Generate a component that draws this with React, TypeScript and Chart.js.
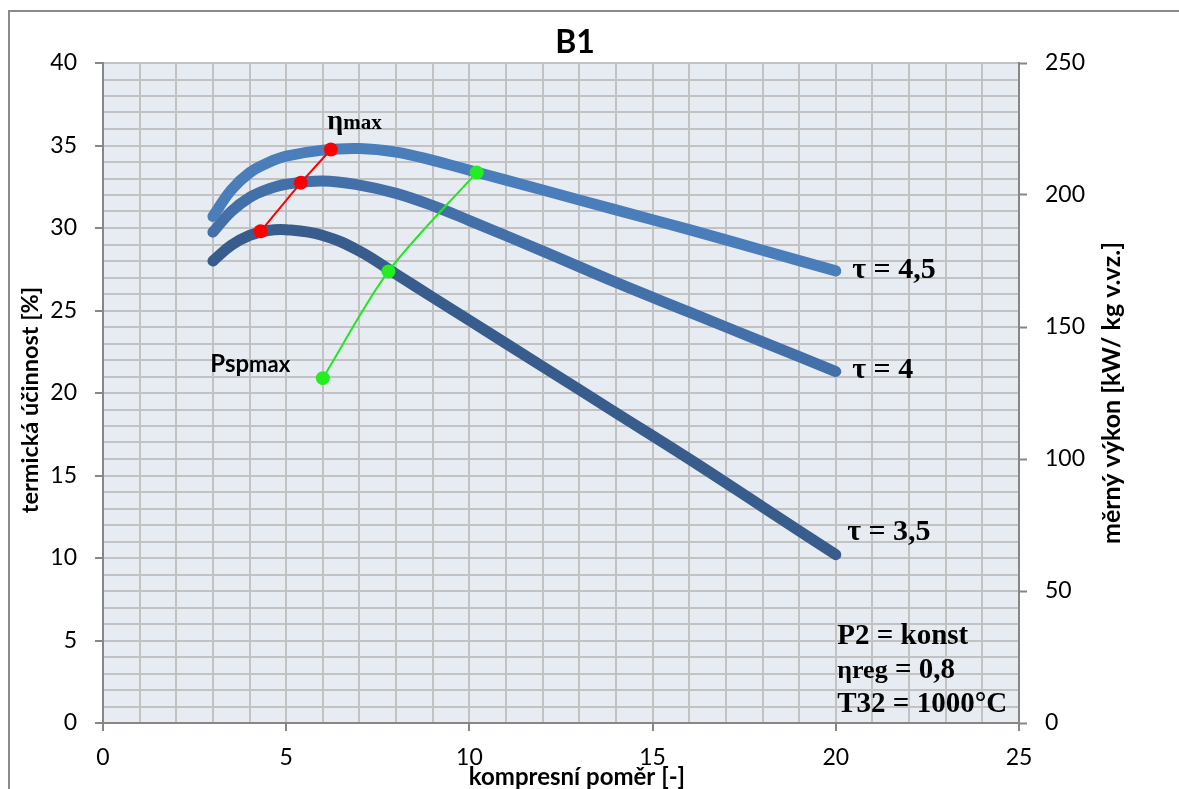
import React, { useEffect, useRef } from 'react';
import { Chart, registerables } from 'chart.js';

Chart.register(...registerables);

// ---- data ----
const compressionRatio = [3, 3.5, 4, 4.5, 5, 6, 7, 8, 9, 10, 12, 14, 16, 18, 20];
const etaTau35 = [28.0, 28.95, 29.55, 29.85, 29.9, 29.55, 28.6, 27.2, 25.8, 24.4, 21.6, 18.8, 16.0, 13.1, 10.2];
const etaTau40 = [29.75, 31.0, 31.85, 32.35, 32.65, 32.85, 32.6, 32.1, 31.35, 30.45, 28.6, 26.7, 24.9, 23.1, 21.3];
const etaTau45 = [30.7, 32.3, 33.35, 33.95, 34.35, 34.72, 34.82, 34.6, 34.1, 33.5, 32.3, 31.1, 29.9, 28.65, 27.4];
const etaMaxX = [4.3, 5.4, 6.22];
const etaMaxY = [29.8, 32.75, 34.76];
const pspMaxX = [6.0, 7.79, 10.2];
const pspMaxY = [20.9, 27.37, 33.37];
const leftTickLabels = [0, 5, 10, 15, 20, 25, 30, 35, 40];
const xTickLabels = [0, 5, 10, 15, 20, 25];
const rightTickLabels = [0, 50, 100, 150, 200, 250];

const chartTitle = 'B1';
const xTitle = 'kompresní poměr [-]';
const yLeftTitle = 'termická účinnost [%]';
const yRightTitle = 'měrný výkon [kW/ kg v.vz.]';

const SERIF = '"Liberation Serif", "Times New Roman", serif';
const SANS = 'Lato, "Open Sans", sans-serif';

const toXY = (xs: number[], ys: number[]) => xs.map((x, i) => ({ x, y: ys[i] }));

type Part = { t: string; f: string };
type Note = { x: number; y: number; parts: Part[] };

const notes: Note[] = [
  { x: 6.12, y: 36.0, parts: [{ t: 'η', f: `bold 28px ${SERIF}` }, { t: 'max', f: `bold 21px ${SERIF}` }] },
  { x: 2.93, y: 21.3, parts: [{ t: 'Psp', f: `bold 24px ${SANS}` }, { t: 'max', f: `bold 22px ${SANS}` }] },
  { x: 20.45, y: 27.0, parts: [{ t: 'τ = 4,5', f: `bold 30px ${SERIF}` }] },
  { x: 20.45, y: 20.9, parts: [{ t: 'τ = 4', f: `bold 30px ${SERIF}` }] },
  { x: 20.31, y: 11.1, parts: [{ t: 'τ = 3,5', f: `bold 30px ${SERIF}` }] },
  { x: 20.04, y: 4.8, parts: [{ t: 'P2 = konst', f: `bold 29px ${SERIF}` }] },
  { x: 20.04, y: 2.75, parts: [{ t: 'ηreg', f: `bold 26px ${SERIF}` }, { t: ' = 0,8', f: `bold 29px ${SERIF}` }] },
  { x: 20.04, y: 0.69, parts: [{ t: 'T32 = 1000°C', f: `bold 29px ${SERIF}` }] },
];

const bgPlugin = {
  id: 'bgPlugin',
  beforeDraw(chart: any) {
    const { ctx, chartArea } = chart;
    ctx.save();
    ctx.fillStyle = '#ffffff';
    ctx.fillRect(0, 0, chart.width, chart.height);
    ctx.fillStyle = '#e7ecf3';
    ctx.fillRect(chartArea.left, chartArea.top, chartArea.right - chartArea.left, chartArea.bottom - chartArea.top);
    ctx.restore();
  },
};

const textPlugin = {
  id: 'textPlugin',
  afterDraw(chart: any) {
    const { ctx } = chart;
    const xs = chart.scales.x;
    const ys = chart.scales.y;
    ctx.save();
    // outer frame (cropped at right/bottom)
    ctx.strokeStyle = '#8a8a8a';
    ctx.lineWidth = 2;
    ctx.beginPath();
    ctx.moveTo(9, chart.height);
    ctx.lineTo(9, 11);
    ctx.lineTo(chart.width, 11);
    ctx.stroke();

    ctx.fillStyle = '#000';
    // chart title
    ctx.font = `bold 32px ${SANS}`;
    ctx.textAlign = 'center';
    ctx.textBaseline = 'middle';
    ctx.fillText(chartTitle, 575, 43);

    // x axis title
    ctx.font = `bold 24px ${SANS}`;
    ctx.fillText(xTitle, 577, 777);

    // left axis title
    ctx.save();
    ctx.translate(30, 400);
    ctx.rotate(-Math.PI / 2);
    ctx.font = `bold 23.5px ${SANS}`;
    ctx.fillText(yLeftTitle, 0, 0);
    ctx.restore();

    // right axis title
    ctx.save();
    ctx.translate(1112, 393);
    ctx.rotate(-Math.PI / 2);
    ctx.font = `bold 25px ${SANS}`;
    ctx.fillText(yRightTitle, 0, 0);
    ctx.restore();

    // annotations
    ctx.textAlign = 'left';
    ctx.textBaseline = 'alphabetic';
    for (const n of notes) {
      let px = xs.getPixelForValue(n.x);
      const py = ys.getPixelForValue(n.y);
      for (const p of n.parts) {
        ctx.font = p.f;
        ctx.fillText(p.t, px, py);
        px += ctx.measureText(p.t).width;
      }
    }
    ctx.restore();
  },
};

const AXIS = '#878787';
const GRID = '#c2c2c2';
const tickFont = { family: SANS, size: 23 };

const curve = (label: string, ys: number[], color: string) => ({
  label,
  data: toXY(compressionRatio, ys),
  borderColor: color,
  backgroundColor: color,
  borderWidth: 11,
  pointRadius: 0,
  borderCapStyle: 'round',
  borderJoinStyle: 'round',
  tension: 0.4,
  yAxisID: 'y',
});

export default function App() {
  const ref = useRef<HTMLCanvasElement>(null);

  useEffect(() => {
    const canvas = ref.current;
    if (!canvas) return;
    const chart = new Chart(canvas, {
      type: 'line',
      data: {
        datasets: [
          {
            label: 'ηmax',
            data: toXY(etaMaxX, etaMaxY),
            borderColor: '#ff0000',
            backgroundColor: '#ff0000',
            borderWidth: 2,
            pointRadius: 7,
            pointBorderWidth: 0,
            pointBackgroundColor: '#ff0000',
            tension: 0,
            yAxisID: 'y',
          },
          {
            label: 'Pspmax',
            data: toXY(pspMaxX, pspMaxY),
            borderColor: '#22e622',
            backgroundColor: '#22e622',
            borderWidth: 2,
            pointRadius: 7,
            pointBorderWidth: 0,
            pointBackgroundColor: '#22ee22',
            tension: 0.3,
            yAxisID: 'y',
          },
          curve('τ = 4,5', etaTau45, '#4a7ebb'),
          curve('τ = 4', etaTau40, '#4370a8'),
          curve('τ = 3,5', etaTau35, '#385d8c'),
        ] as any,
      },
      options: {
        responsive: false,
        animation: false,
        devicePixelRatio: 1,
        layout: { padding: { top: 63, left: 0, right: 0, bottom: 0 } },
        plugins: {
          legend: { display: false },
          title: { display: false },
          tooltip: { enabled: false },
        },
        scales: {
          x: {
            type: 'linear',
            min: 0,
            max: 25,
            afterFit: (s: any) => { s.height = 66; },
            ticks: {
              stepSize: 1,
              autoSkip: false,
              maxRotation: 0,
              padding: 13,
              color: '#000',
              font: tickFont,
              callback: (v: any) => (xTickLabels.includes(Number(v)) ? String(v) : ''),
            },
            grid: {
              color: GRID,
              lineWidth: 2,
              tickLength: 8,
              tickWidth: 2,
              tickColor: (c: any) => (c.tick && xTickLabels.includes(c.tick.value) ? AXIS : 'rgba(0,0,0,0)'),
            },
            border: { display: true, color: AXIS, width: 2 },
          },
          y: {
            type: 'linear',
            position: 'left',
            min: 0,
            max: 40,
            afterFit: (s: any) => { s.width = 103; },
            ticks: {
              stepSize: 1,
              autoSkip: false,
              padding: 18,
              color: '#000',
              font: tickFont,
              callback: (v: any) => (leftTickLabels.includes(Number(v)) ? String(v) : ''),
            },
            grid: {
              color: GRID,
              lineWidth: 2,
              tickLength: 8,
              tickWidth: 2,
              tickColor: (c: any) => (c.tick && leftTickLabels.includes(c.tick.value) ? AXIS : 'rgba(0,0,0,0)'),
            },
            border: { display: true, color: AXIS, width: 2 },
          },
          y2: {
            type: 'linear',
            position: 'right',
            min: 0,
            max: 250,
            afterFit: (s: any) => { s.width = 160; },
            ticks: {
              stepSize: 50,
              autoSkip: false,
              padding: 18,
              color: '#000',
              font: tickFont,
              callback: (v: any) => (rightTickLabels.includes(Number(v)) ? String(v) : ''),
            },
            grid: {
              drawOnChartArea: false,
              tickLength: 8,
              tickWidth: 2,
              tickColor: AXIS,
            },
            border: { display: true, color: AXIS, width: 2 },
          },
        },
      } as any,
      plugins: [bgPlugin, textPlugin],
    });
    return () => chart.destroy();
  }, []);

  return (
    <div style={{ position: 'absolute', left: 0, top: 0, width: 1179, height: 789, background: '#fff' }}>
      <canvas ref={ref} width={1179} height={789} style={{ display: 'block', width: 1179, height: 789 }} />
    </div>
  );
}
